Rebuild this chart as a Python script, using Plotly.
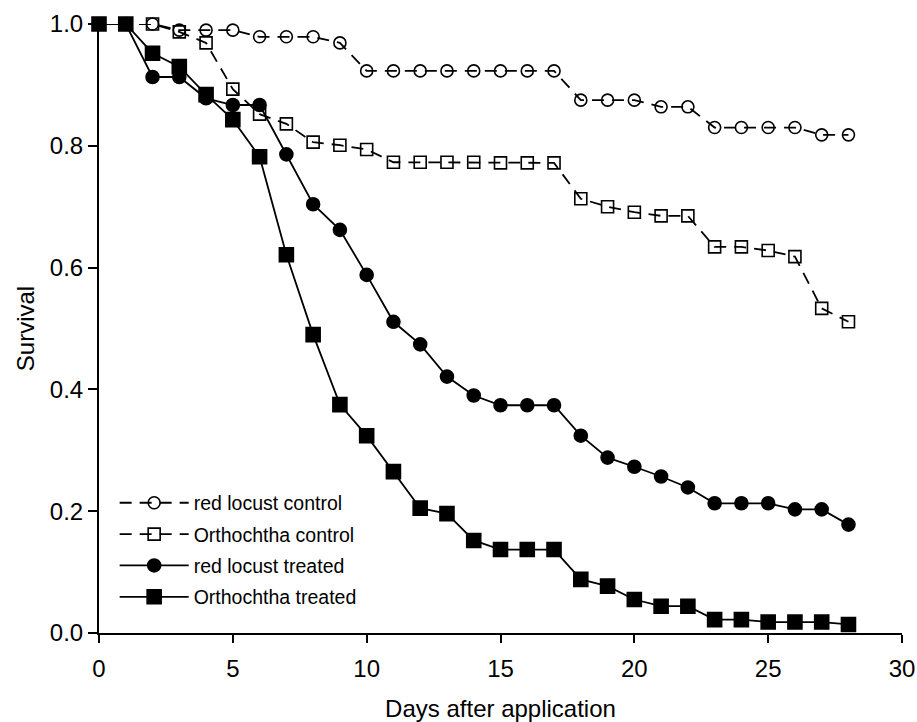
import plotly.graph_objects as go

days = list(range(0, 29))

red_locust_control = [1.0, 1.0, 1.0, 0.99, 0.99, 0.99, 0.979, 0.979, 0.979, 0.969,
                      0.923, 0.923, 0.923, 0.923, 0.923, 0.923, 0.923, 0.923, 0.875, 0.875,
                      0.875, 0.864, 0.864, 0.830, 0.830, 0.830, 0.830, 0.818, 0.818]
orthochtha_control = [1.0, 1.0, 1.0, 0.987, 0.969, 0.893, 0.852, 0.836, 0.806, 0.801,
                      0.794, 0.773, 0.773, 0.773, 0.773, 0.772, 0.772, 0.772, 0.713, 0.700,
                      0.691, 0.685, 0.685, 0.634, 0.634, 0.628, 0.618, 0.533, 0.511]
red_locust_treated = [1.0, 1.0, 0.913, 0.913, 0.878, 0.867, 0.867, 0.786, 0.704, 0.662,
                      0.588, 0.511, 0.474, 0.421, 0.390, 0.374, 0.374, 0.374, 0.324, 0.288,
                      0.273, 0.257, 0.239, 0.213, 0.213, 0.213, 0.203, 0.203, 0.178]
orthochtha_treated = [1.0, 1.0, 0.952, 0.930, 0.884, 0.843, 0.782, 0.621, 0.490, 0.375,
                      0.324, 0.265, 0.205, 0.196, 0.152, 0.137, 0.137, 0.137, 0.088, 0.077,
                      0.055, 0.044, 0.044, 0.022, 0.022, 0.018, 0.018, 0.018, 0.014]

names = ["red locust control", "Orthochtha control", "red locust treated", "Orthochtha treated"]
x_ticks = [0, 5, 10, 15, 20, 25, 30]
y_ticks = [0.0, 0.2, 0.4, 0.6, 0.8, 1.0]
y_tick_text = ["0.0", "0.2", "0.4", "0.6", "0.8", "1.0"]

FONT = "Liberation Sans, Arial, sans-serif"

fig = go.Figure()
series = [
    (red_locust_control, names[0], "circle-open", 12, "12px,8px"),
    (orthochtha_control, names[1], "square-open", 12, "12px,8px"),
    (red_locust_treated, names[2], "circle", 13, "solid"),
    (orthochtha_treated, names[3], "square", 14, "solid"),
]
for i, (vals, name, sym, size, dash) in enumerate(series):
    fig.add_trace(go.Scatter(
        x=days, y=vals, name=name, mode="lines+markers",
        legendgroup="g%d" % i,
        line=dict(color="black", width=1.8, dash=dash),
        marker=dict(symbol=sym, size=size, color="black",
                    line=dict(color="black", width=1.6)),
        cliponaxis=False,
    ))

fig.update_layout(
    width=917, height=722,
    margin=dict(l=99, r=15, t=24, b=89, autoexpand=False),
    paper_bgcolor="white", plot_bgcolor="white",
    font=dict(family=FONT, size=24, color="black"),
    showlegend=True,
    legend=dict(
        x=0.0195, y=0.027, xanchor="left", yanchor="bottom",
        bgcolor="rgba(0,0,0,0)", borderwidth=0,
        font=dict(family=FONT, size=19.5, color="black"),
        itemwidth=69, tracegroupgap=3,
    ),
    xaxis=dict(
        range=[0, 30], tickvals=x_ticks, ticktext=[str(t) for t in x_ticks],
        automargin=False,
        showline=True, linecolor="black", linewidth=2,
        ticks="outside", ticklen=8, tickwidth=2, tickcolor="black",
        showgrid=False, zeroline=False,
        tickfont=dict(family=FONT, size=24),
        ticklabelstandoff=5, ticklabeloverflow="allow",
        title=dict(text="Days after application", font=dict(family=FONT, size=24), standoff=20),
    ),
    yaxis=dict(
        range=[0, 1.0], tickvals=y_ticks, ticktext=y_tick_text,
        automargin=False,
        showline=True, linecolor="black", linewidth=2,
        ticks="outside", ticklen=9, tickwidth=2, tickcolor="black",
        showgrid=False, zeroline=False,
        tickfont=dict(family=FONT, size=24),
        ticklabelstandoff=0,
        title=dict(text="Survival", font=dict(family=FONT, size=24), standoff=8),
    ),
)

fig.write_html("out.html")
